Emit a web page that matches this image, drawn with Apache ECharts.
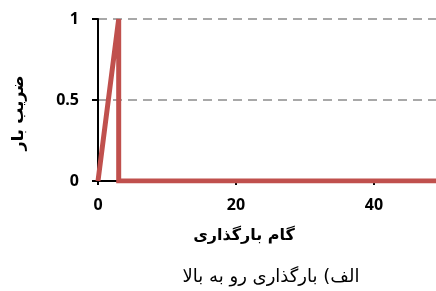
<!DOCTYPE html>
<html>
<head>
<meta charset="utf-8">
<script src="https://cdn.jsdelivr.net/npm/echarts@6/dist/echarts.min.js"></script>
<style>
  html, body { margin: 0; padding: 0; background: #fff; }
  #chart { width: 436px; height: 291px; }
</style>
</head>
<body>
<div id="chart"></div>
<script>
  // load step vs load factor
  const steps = [0, 3, 3, 49];
  const loadFactor = [0, 1, 0, 0];
  const yTicks = [0, 0.5, 1];
  const xTitle = 'گام بارگذاری';
  const yTitle = 'ضریب بار';
  const caption = 'الف) بارگذاری رو به بالا';

  const chart = echarts.init(document.getElementById('chart'));
  const labelFont = { color: '#000', fontWeight: 'bold', fontSize: 16, fontFamily: 'Open Sans' };

  chart.setOption({
    animation: false,
    grid: { left: 98, right: 0, top: 19, bottom: 110 },
    xAxis: {
      type: 'value',
      min: 0,
      max: 49,
      interval: 20,
      axisLine: { lineStyle: { color: '#000', width: 2 } },
      axisTick: { show: true, length: 4, lineStyle: { color: '#000', width: 2 } },
      axisLabel: Object.assign({ margin: 16, showMaxLabel: false }, labelFont),
      splitLine: { show: false },
    },
    yAxis: {
      type: 'value',
      min: yTicks[0],
      max: yTicks[yTicks.length - 1],
      interval: 0.5,
      axisLine: { show: true, lineStyle: { color: '#000', width: 2 } },
      axisTick: { show: true, length: 6, lineStyle: { color: '#000', width: 2 } },
      axisLabel: Object.assign({ margin: 19 }, labelFont),
      splitLine: { show: true, lineStyle: { color: '#8c8c8c', type: [9, 6], width: 1.5 } },
    },
    series: [
      {
        type: 'line',
        data: steps.map((s, i) => [s, loadFactor[i]]),
        showSymbol: false,
        lineStyle: { color: '#C0504D', width: 5, join: 'miter' },
        itemStyle: { color: '#C0504D' },
      },
    ],
    graphic: [
      {
        type: 'text', x: 244, y: 236,
        style: { text: xTitle, fontSize: 16, fontWeight: 'bold', fontFamily: 'DejaVu Sans', fill: '#000', align: 'center', verticalAlign: 'middle' },
      },
      {
        type: 'text', x: 19, y: 113, rotation: Math.PI / 2,
        style: { text: yTitle, fontSize: 16, fontWeight: 'bold', fontFamily: 'DejaVu Sans', fill: '#000', align: 'center', verticalAlign: 'middle' },
      },
      {
        type: 'text', x: 271, y: 277,
        style: { text: caption, fontSize: 18, fontFamily: 'DejaVu Sans', fill: '#000', align: 'center', verticalAlign: 'middle' },
      },
    ],
  });
</script>
</body>
</html>
